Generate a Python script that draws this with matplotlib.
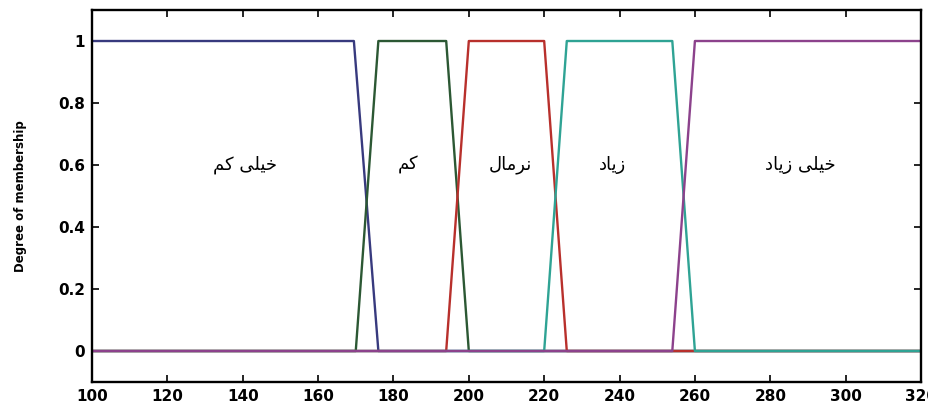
import matplotlib
matplotlib.use("Agg")
import matplotlib.pyplot as plt

# universe of discourse
x_range = [100, 320]

# trapezoid breakpoints [a, b, c, d] for each fuzzy set
mf_params = [
    [100, 100, 169.5, 176],
    [170, 176, 194, 200],
    [194, 200, 220, 226],
    [220, 226, 254, 260],
    [254, 260, 320, 320],
]
mf_colors = ["#383a7e", "#2c5834", "#b8302c", "#2fa394", "#8c428c"]

# Persian set names, already in presentation forms / visual order
# (matplotlib does no Arabic shaping or bidi on its own)
mf_labels = [
    "\uFEE2\uFB90 \uFBFD\uFEE0\uFBFF\uFEA7",                     # very low
    "\uFEE2\uFB90",                                              # low
    "\uFEDD\uFE8E\uFEE3\uFEAE\uFEE7",                            # normal
    "\uFEA9\uFE8E\uFBFE\uFEAF",                                  # high
    "\uFEA9\uFE8E\uFBFE\uFEAF \uFBFD\uFEE0\uFBFF\uFEA7",         # very high
]
label_x = [140.5, 184, 211, 238, 288]
label_y = 0.6

x_ticks = list(range(100, 321, 20))
y_ticks = [0, 0.2, 0.4, 0.6, 0.8, 1]
y_tick_labels = ["0", "0.2", "0.4", "0.6", "0.8", "1"]


def trap_points(p):
    a, b, c, d = p
    xs, ys = [], []
    if a > x_range[0]:
        xs += [x_range[0], a]
        ys += [0, 0]
    xs += [b, c]
    ys += [1, 1]
    if d < x_range[1]:
        xs += [d, x_range[1]]
        ys += [0, 0]
    if b == x_range[0]:
        xs = [x_range[0]] + xs
        ys = [1] + ys
    return xs, ys


fig = plt.figure(figsize=(9.29, 4.07), dpi=100)
ax = fig.add_axes([0.099, 0.0614, 0.8924, 0.914])

for p, color in zip(mf_params, mf_colors):
    xs, ys = trap_points(p)
    ax.plot(xs, ys, color=color, lw=1.7, solid_joinstyle="round")

for txt, lx in zip(mf_labels, label_x):
    ax.text(lx, label_y, txt, ha="center", va="center", fontsize=13,
            family="DejaVu Sans", color="black")

ax.set_xlim(*x_range)
ax.set_ylim(-0.1, 1.1)
ax.set_xticks(x_ticks)
ax.set_yticks(y_ticks)
ax.set_yticklabels(y_tick_labels)
ax.tick_params(direction="in", top=True, right=True, length=5, width=1.2,
               labelsize=11, pad=5)
for lab in ax.get_xticklabels() + ax.get_yticklabels():
    lab.set_fontweight("bold")
for s in ax.spines.values():
    s.set_linewidth(1.7)

ax.set_ylabel("Degree of membership", fontsize=8.5, fontweight="bold", labelpad=22)

fig.savefig("out.png", dpi=100)
